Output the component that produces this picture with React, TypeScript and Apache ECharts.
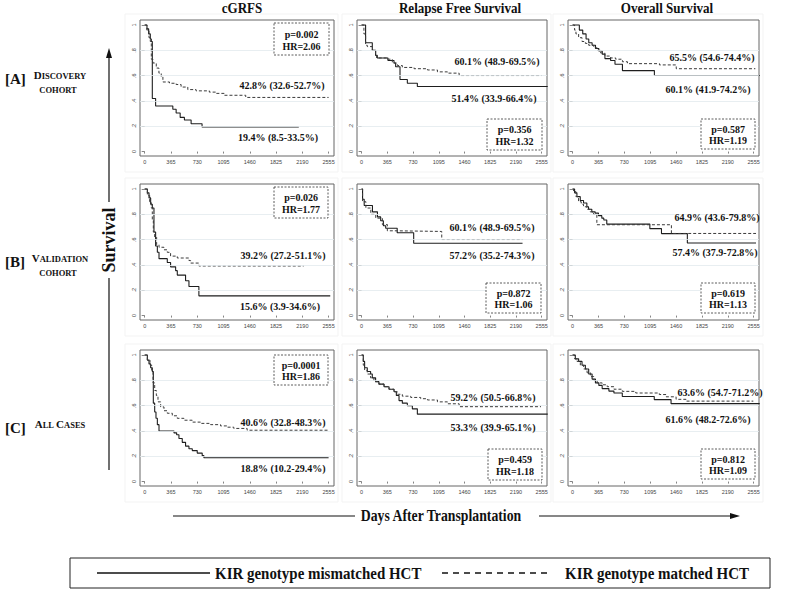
import React, { useEffect, useRef } from 'react';
import * as echarts from 'echarts';

// ---------- axis ticks ----------
const X_TICKS = [0, 365, 730, 1095, 1460, 1825, 2190, 2555];
const Y_TICKS = [0, 0.2, 0.4, 0.6, 0.8, 1];
const Y_TICK_LABELS = ['0', '.2', '.4', '.6', '.8', '1'];
const GRID_LINES = [0.2, 0.4, 0.6, 0.8];

// ---------- texts ----------
const COLUMN_TITLES = ['cGRFS', 'Relapse Free Survival', 'Overall Survival'];
const ROW_TAGS = ['[A]', '[B]', '[C]'];
const ROW_NAMES = [['DISCOVERY', 'COHORT'], ['VALIDATION', 'COHORT'], ['ALL CASES']];
const Y_TITLE = 'Survival';
const X_TITLE = 'Days After Transplantation';
const LEGEND_MIS = 'KIR genotype mismatched HCT';
const LEGEND_MAT = 'KIR genotype matched HCT';

// matched (dashed) / mismatched (solid) survival labels, row-major A..C, cGRFS/RFS/OS
const LABEL_MAT = [
  '42.8% (32.6-52.7%)', '60.1% (48.9-69.5%)', '65.5% (54.6-74.4%)',
  '39.2% (27.2-51.1%)', '60.1% (48.9-69.5%)', '64.9% (43.6-79.8%)',
  '40.6% (32.8-48.3%)', '59.2% (50.5-66.8%)', '63.6% (54.7-71.2%)',
];
const LABEL_MIS = [
  '19.4% (8.5-33.5%)', '51.4% (33.9-66.4%)', '60.1% (41.9-74.2%)',
  '15.6% (3.9-34.6%)', '57.2% (35.2-74.3%)', '57.4% (37.9-72.8%)',
  '18.8% (10.2-29.4%)', '53.3% (39.9-65.1%)', '61.6% (48.2-72.6%)',
];
const P_VALUES = ['p=0.002', 'p=0.356', 'p=0.587', 'p=0.026', 'p=0.872', 'p=0.619', 'p=0.0001', 'p=0.459', 'p=0.812'];
const HR_VALUES = ['HR=2.06', 'HR=1.32', 'HR=1.19', 'HR=1.77', 'HR=1.06', 'HR=1.13', 'HR=1.86', 'HR=1.18', 'HR=1.09'];

// ---------- Kaplan-Meier curves [day, survival] ----------
const A_CGRFS_MIS = [[0, 1], [32, 0.97], [55, 0.93], [78, 0.89], [92, 0.87], [106, 0.42], [152, 0.36], [391, 0.335], [437, 0.305], [493, 0.27], [552, 0.25], [645, 0.22], [797, 0.194], [2141, 0.194]];
const A_CGRFS_MAT = [[0, 1], [30, 0.96], [60, 0.9], [78, 0.87], [92, 0.73], [115, 0.7], [161, 0.66], [198, 0.62], [230, 0.59], [253, 0.55], [345, 0.54], [437, 0.53], [506, 0.51], [599, 0.49], [714, 0.48], [898, 0.47], [990, 0.46], [1105, 0.445], [1404, 0.428], [2555, 0.428]];
const A_RFS_MIS = [[0, 1], [57, 0.86], [152, 0.8], [199, 0.76], [223, 0.74], [374, 0.72], [460, 0.7], [483, 0.67], [545, 0.57], [649, 0.54], [791, 0.514], [2640, 0.514]];
const A_RFS_MAT = [[0, 1], [33, 0.93], [57, 0.84], [81, 0.83], [152, 0.8], [199, 0.76], [213, 0.74], [365, 0.73], [436, 0.7], [507, 0.68], [578, 0.665], [744, 0.655], [934, 0.645], [1076, 0.63], [1218, 0.62], [1384, 0.601], [2555, 0.601]];
const A_OS_MIS = [[0, 1], [95, 0.96], [143, 0.93], [190, 0.89], [228, 0.86], [275, 0.84], [323, 0.815], [370, 0.795], [418, 0.77], [456, 0.735], [536, 0.72], [598, 0.69], [703, 0.64], [1154, 0.601], [2640, 0.601]];
const A_OS_MAT = [[0, 1], [28, 0.96], [47, 0.93], [85, 0.9], [133, 0.87], [180, 0.855], [228, 0.84], [299, 0.82], [347, 0.8], [394, 0.78], [456, 0.755], [537, 0.74], [608, 0.73], [703, 0.71], [774, 0.695], [1225, 0.685], [1462, 0.655], [2578, 0.655]];

const B_CGRFS_MIS = [[0, 1], [37, 0.97], [60, 0.93], [83, 0.88], [106, 0.85], [129, 0.66], [152, 0.55], [176, 0.5], [199, 0.45], [314, 0.42], [360, 0.385], [430, 0.355], [453, 0.32], [568, 0.275], [615, 0.23], [753, 0.156], [2578, 0.156]];
const B_CGRFS_MAT = [[0, 1], [37, 0.95], [69, 0.9], [92, 0.85], [106, 0.75], [120, 0.66], [139, 0.62], [166, 0.56], [199, 0.54], [268, 0.52], [314, 0.5], [360, 0.47], [453, 0.455], [615, 0.435], [638, 0.415], [753, 0.392], [2209, 0.392]];
const B_RFS_MIS = [[0, 1], [14, 0.92], [37, 0.87], [154, 0.82], [225, 0.78], [271, 0.75], [309, 0.71], [342, 0.69], [505, 0.655], [739, 0.572], [2283, 0.572]];
const B_RFS_MAT = [[0, 1], [14, 0.9], [61, 0.85], [131, 0.8], [201, 0.77], [295, 0.72], [365, 0.67], [505, 0.665], [1137, 0.601], [2283, 0.601]];
const B_OS_MIS = [[0, 1], [28, 0.97], [61, 0.94], [108, 0.91], [154, 0.89], [201, 0.86], [225, 0.84], [271, 0.82], [318, 0.81], [365, 0.79], [412, 0.77], [440, 0.755], [482, 0.723], [1090, 0.687], [1254, 0.648], [1619, 0.574], [2588, 0.574]];
const B_OS_MAT = [[0, 1], [14, 0.98], [47, 0.94], [84, 0.9], [122, 0.88], [154, 0.86], [201, 0.84], [248, 0.82], [295, 0.8], [342, 0.718], [1394, 0.649], [2588, 0.649]];

const C_CGRFS_MIS = [[0, 1], [37, 0.96], [60, 0.93], [83, 0.9], [106, 0.87], [120, 0.62], [139, 0.55], [157, 0.5], [176, 0.45], [199, 0.4], [407, 0.385], [444, 0.37], [476, 0.34], [522, 0.31], [568, 0.28], [615, 0.26], [661, 0.245], [730, 0.225], [799, 0.205], [823, 0.188], [2555, 0.188]];
const C_CGRFS_MAT = [[0, 1], [37, 0.96], [74, 0.92], [97, 0.88], [116, 0.78], [139, 0.72], [162, 0.68], [185, 0.63], [222, 0.59], [268, 0.56], [314, 0.54], [384, 0.52], [453, 0.5], [545, 0.485], [661, 0.47], [776, 0.46], [915, 0.45], [1054, 0.44], [1146, 0.43], [1238, 0.42], [1423, 0.406], [2555, 0.406]];
const C_RFS_MIS = [[0, 1], [24, 0.95], [43, 0.9], [81, 0.87], [128, 0.85], [152, 0.82], [199, 0.79], [246, 0.77], [318, 0.75], [389, 0.73], [460, 0.71], [493, 0.68], [531, 0.64], [578, 0.62], [649, 0.6], [720, 0.575], [791, 0.533], [2640, 0.533]];
const C_RFS_MAT = [[0, 1], [24, 0.92], [43, 0.88], [81, 0.85], [128, 0.82], [175, 0.79], [246, 0.77], [318, 0.75], [389, 0.73], [460, 0.71], [507, 0.69], [578, 0.675], [697, 0.665], [839, 0.655], [934, 0.645], [1076, 0.63], [1218, 0.615], [1384, 0.592], [2545, 0.592]];
const C_OS_MIS = [[0, 1], [38, 0.97], [85, 0.95], [133, 0.92], [180, 0.89], [227, 0.85], [275, 0.81], [322, 0.78], [370, 0.76], [417, 0.735], [512, 0.715], [583, 0.7], [701, 0.673], [1152, 0.648], [1389, 0.616], [2640, 0.616]];
const C_OS_MAT = [[0, 1], [28, 0.97], [62, 0.95], [109, 0.92], [156, 0.89], [204, 0.86], [251, 0.83], [299, 0.8], [346, 0.78], [417, 0.765], [488, 0.75], [583, 0.73], [701, 0.713], [891, 0.7], [1223, 0.688], [1318, 0.67], [1460, 0.65], [1602, 0.636], [2550, 0.636]];

const CURVES_MIS = [A_CGRFS_MIS, A_RFS_MIS, A_OS_MIS, B_CGRFS_MIS, B_RFS_MIS, B_OS_MIS, C_CGRFS_MIS, C_RFS_MIS, C_OS_MIS];
const CURVES_MAT = [A_CGRFS_MAT, A_RFS_MAT, A_OS_MAT, B_CGRFS_MAT, B_RFS_MAT, B_OS_MAT, C_CGRFS_MAT, C_RFS_MAT, C_OS_MAT];

// ---------- layout ----------
const COL_LEFT = [140, 357, 568];
const COL_W = [194, 190, 191];
const ROW_TOP = [20, 184, 350];
const ROW_H = 136;
const X_MIN = -65, X_MAX = 2630;
const Y_MIN = -0.035, Y_MAX = 1.04;

// annotation positions (pixel layout) per panel
const MAT_POS = [[282, 85], [497, 61], [712, 57], [283, 255], [492, 227], [717, 217], [283, 422], [493, 397], [720, 392]];
const MIS_POS = [[278, 137], [494, 98], [708, 89], [280, 306], [492, 255], [715, 252], [283, 468], [493, 427], [708, 419]];
const BOX_POS = [[274, 23, 55, 32], [487, 119, 55, 31], [701, 119, 54, 30], [274, 187, 54, 31], [486, 283, 55, 30], [701, 283, 54, 30], [274, 355, 54, 30], [488, 449, 54, 31], [701, 449, 54, 30]];

const SERIF = '"Liberation Serif", "Times New Roman", serif';
const SANS = '"Liberation Sans", Arial, sans-serif';
const INK = '#111';

function txt(text: string, x: number, y: number, size: number, extra: any = {}) {
  return {
    type: 'text',
    x, y,
    rotation: extra.rotation || 0,
    scaleX: extra.scaleX || 1,
    scaleY: extra.scaleY || 1,
    silent: true,
    z: 10,
    style: {
      text,
      fontSize: size,
      fontWeight: 'bold',
      fontFamily: SERIF,
      fill: INK,
      align: extra.align || 'center',
      verticalAlign: extra.vAlign || 'middle',
      textAlign: extra.align || 'center',
      textVerticalAlign: extra.vAlign || 'middle',
      rich: extra.rich,
    },
  };
}

function smallCaps(s: string) {
  return s
    .split(' ')
    .map((w) => `{b|${w[0]}}{s|${w.slice(1)}}`)
    .join('{s| }');
}

const SC_RICH = {
  b: { fontSize: 11, fontWeight: 'bold', fontFamily: SERIF, fill: INK, lineHeight: 11, verticalAlign: 'bottom' },
  s: { fontSize: 8.5, fontWeight: 'bold', fontFamily: SERIF, fill: INK, lineHeight: 11, verticalAlign: 'bottom' },
};

function buildOption() {
  const grid: any[] = [];
  const xAxis: any[] = [];
  const yAxis: any[] = [];
  const series: any[] = [];
  const graphic: any[] = [];

  for (let r = 0; r < 3; r++) {
    for (let c = 0; c < 3; c++) {
      const i = r * 3 + c;
      // faint outer graph region
      graphic.push({
        type: 'rect', silent: true, z: 0,
        shape: { x: COL_LEFT[c] - 15, y: ROW_TOP[r] - 6, width: COL_W[c] + 19, height: ROW_H + 22 },
        style: { fill: 'none', stroke: '#f3f3f3', lineWidth: 1 },
      });
      grid.push({
        left: COL_LEFT[c], top: ROW_TOP[r], width: COL_W[c], height: ROW_H,
        show: true, borderColor: '#666', borderWidth: 1, backgroundColor: 'transparent',
      });
      xAxis.push({
        gridIndex: i, type: 'value', min: X_MIN, max: X_MAX,
        axisLine: { show: false },
        axisTick: { show: true, length: 2, customValues: X_TICKS, lineStyle: { color: '#666', width: 0.8 } },
        axisLabel: {
          customValues: X_TICKS, fontSize: 5.5, color: '#444', margin: 3, fontFamily: SANS,
          formatter: (v: number) => String(Math.round(v)),
        },
        splitLine: { show: false },
      });
      yAxis.push({
        gridIndex: i, type: 'value', min: Y_MIN, max: Y_MAX,
        axisLine: { show: false },
        axisTick: { show: true, length: 3, customValues: Y_TICKS, lineStyle: { color: '#666', width: 0.8 } },
        axisLabel: {
          customValues: Y_TICKS, fontSize: 5.5, color: '#444', margin: 3, rotate: 90, fontFamily: SANS,
          formatter: (v: number) => {
            const k = Y_TICKS.findIndex((t) => Math.abs(t - v) < 1e-6);
            return k >= 0 ? Y_TICK_LABELS[k] : '';
          },
        },
        splitLine: { show: false },
      });
      series.push({
        type: 'line', xAxisIndex: i, yAxisIndex: i, data: CURVES_MIS[i], step: 'end',
        showSymbol: false, symbol: 'none', silent: true, z: 3,
        lineStyle: { color: '#1e1e1e', width: 1.1, type: 'solid' },
        markLine: {
          silent: true, symbol: ['none', 'none'], label: { show: false },
          lineStyle: { color: '#e2eaee', width: 0.8, type: 'solid' },
          data: GRID_LINES.map((v) => ({ yAxis: v })),
        },
      });
      series.push({
        type: 'line', xAxisIndex: i, yAxisIndex: i, data: CURVES_MAT[i], step: 'end',
        showSymbol: false, symbol: 'none', silent: true, z: 4,
        lineStyle: { color: '#3a3a3a', width: 1, type: [3, 2] },
      });

      // annotations
      graphic.push(txt(LABEL_MAT[i], MAT_POS[i][0], MAT_POS[i][1], 10));
      graphic.push(txt(LABEL_MIS[i], MIS_POS[i][0], MIS_POS[i][1], 10));
      const [bx, by, bw, bh] = BOX_POS[i];
      graphic.push({
        type: 'rect', silent: true, z: 9,
        shape: { x: bx, y: by, width: bw, height: bh },
        style: { fill: '#fff', stroke: '#333', lineWidth: 0.8, lineDash: [2, 1.5] },
      });
      graphic.push(txt(P_VALUES[i], bx + bw / 2, by + bh * 0.35, 10));
      graphic.push(txt(HR_VALUES[i], bx + bw / 2, by + bh * 0.73, 10));
    }
  }

  // column titles
  const titleX = [242, 460, 667];
  COLUMN_TITLES.forEach((t, c) => graphic.push(txt(t, titleX[c], 8, 15, { scaleX: 0.87 })));

  // row labels
  const rowY = [79, 262, 428];
  ROW_TAGS.forEach((t, r) => {
    graphic.push(txt(t, 5, rowY[r], 15, { align: 'left' }));
    graphic.push(txt(smallCaps(ROW_NAMES[r][0]), 60, rowY[r] + 1, 11, { rich: SC_RICH, vAlign: 'bottom' }));
    if (ROW_NAMES[r][1]) {
      graphic.push(txt(ROW_NAMES[r][1], 58, rowY[r] + 11, 8.5));
    }
  });

  // vertical arrow with Survival
  const ax = 109;
  graphic.push({ type: 'line', silent: true, shape: { x1: ax, y1: 470, x2: ax, y2: 278 }, style: { stroke: INK, lineWidth: 1.2 } });
  graphic.push({ type: 'line', silent: true, shape: { x1: ax, y1: 202, x2: ax, y2: 56 }, style: { stroke: INK, lineWidth: 1.2 } });
  graphic.push({ type: 'polygon', silent: true, shape: { points: [[ax, 48], [ax - 3, 58], [ax + 3, 58]] }, style: { fill: INK } });
  graphic.push(txt(Y_TITLE, ax, 240, 18, { rotation: Math.PI / 2 }));

  // horizontal arrow with Days After Transplantation
  const ay = 516;
  graphic.push({ type: 'line', silent: true, shape: { x1: 173, y1: ay, x2: 355, y2: ay }, style: { stroke: INK, lineWidth: 1.2 } });
  graphic.push({ type: 'line', silent: true, shape: { x1: 539, y1: ay, x2: 732, y2: ay }, style: { stroke: INK, lineWidth: 1.2 } });
  graphic.push({ type: 'polygon', silent: true, shape: { points: [[740, ay], [730, ay - 3], [730, ay + 3]] }, style: { fill: INK } });
  graphic.push(txt(X_TITLE, 441, ay, 16, { scaleX: 0.86 }));

  // legend
  graphic.push({ type: 'rect', silent: true, shape: { x: 70, y: 558, width: 700, height: 30 }, style: { fill: 'none', stroke: '#222', lineWidth: 1 } });
  graphic.push({ type: 'line', silent: true, shape: { x1: 97, y1: 573, x2: 210, y2: 573 }, style: { stroke: INK, lineWidth: 1.3 } });
  graphic.push(txt(LEGEND_MIS, 215, 573, 17, { align: 'left', scaleX: 0.88 }));
  graphic.push({ type: 'line', silent: true, shape: { x1: 442, y1: 573, x2: 552, y2: 573 }, style: { stroke: INK, lineWidth: 1.3, lineDash: [6, 5] } });
  graphic.push(txt(LEGEND_MAT, 565, 573, 17, { align: 'left', scaleX: 0.88 }));

  return {
    animation: false,
    backgroundColor: '#fff',
    grid, xAxis, yAxis, series, graphic,
  };
}

export default function App() {
  const ref = useRef<HTMLDivElement>(null);
  useEffect(() => {
    if (!ref.current) return;
    const chart = echarts.init(ref.current, null, { renderer: 'svg' });
    chart.setOption(buildOption() as any);
    return () => chart.dispose();
  }, []);
  return (
    <div
      ref={ref}
      style={{ position: 'absolute', left: 0, top: 0, width: 788, height: 590, background: '#fff' }}
    />
  );
}
